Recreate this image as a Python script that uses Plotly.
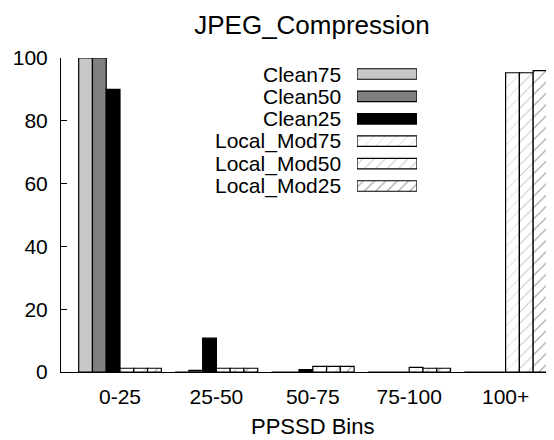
import plotly.graph_objects as go

# ---------------- data ----------------
categories = ["0-25", "25-50", "50-75", "75-100", "100+"]
series_names = ["Clean75", "Clean50", "Clean25", "Local_Mod75", "Local_Mod50", "Local_Mod25"]
clean75 = [100, 0, 0, 0, 0]
clean50 = [100, 0.5, 0, 0, 0]
clean25 = [90, 10.8, 0.8, 0, 0]
local_mod75 = [1.2, 1.2, 1.8, 1.5, 95.3]
local_mod50 = [1.2, 1.2, 1.8, 1.2, 95.3]
local_mod25 = [1.2, 1.2, 1.8, 1.2, 96]
y_ticks = [0, 20, 40, 60, 80, 100]
title_text = "JPEG_Compression"
x_title = "PPSSD Bins"

series_values = [clean75, clean50, clean25, local_mod75, local_mod50, local_mod25]

# ---------------- styles ----------------
FONT = "Liberation Sans, Arial, sans-serif"
styles = [
    dict(color="#c8c8c8"),
    dict(color="#808080"),
    dict(color="#000000"),
    dict(color="white", pattern=dict(shape="/", fgcolor="#c0c0c0", bgcolor="white", size=8, solidity=0.12)),
    dict(color="white", pattern=dict(shape="/", fgcolor="#8a8a8a", bgcolor="white", size=8, solidity=0.12)),
    dict(color="white", pattern=dict(shape="/", fgcolor="#303030", bgcolor="white", size=8, solidity=0.14)),
]

fig = go.Figure()
for name, vals, st in zip(series_names, series_values, styles):
    marker = dict(st)
    marker["line"] = dict(color="black", width=1.2)
    fig.add_trace(go.Bar(x=categories, y=vals, name=name, marker=marker,
                         showlegend=False, xaxis="x", yaxis="y"))

# custom legend (text left, sample right) drawn on its own small axes
for name, st in zip(series_names, styles):
    marker = dict(st)
    marker["line"] = dict(color="black", width=1.2)
    fig.add_trace(go.Bar(y=[name], x=[1], orientation="h", marker=marker, width=0.47,
                         showlegend=False, xaxis="x3", yaxis="y3", hoverinfo="skip"))

# page is offset by the browser's default 8px body margin
OFF = 8
PW, PH = 554, 440            # page size
W, H = PW - OFF, PH - OFF    # figure size
# plot area in page pixels
P_L, P_R, P_T, P_B = 61, 554, 58, 372
L, T = P_L - OFF, P_T - OFF
R = (PW - P_R)
B = PH - P_B
pw = P_R - P_L
ph = P_B - P_T


def px_x(p):
    return (p - P_L) / pw


def px_y(p):
    return (P_B - p) / ph


xr = [-0.612, 4.502]
leg_top, leg_bot = 62.8, 197.2
n = len(series_names)
row_h = (leg_bot - leg_top) / n

annotations = [dict(text=x_title, xref="paper", yref="paper", x=px_x(313), y=px_y(426),
                    xanchor="center", yanchor="middle", showarrow=False,
                    font=dict(family=FONT, size=22, color="black"))]
for i, name in enumerate(series_names):
    annotations.append(dict(text=name, xref="paper", yref="paper",
                            x=px_x(343), y=px_y(leg_top + (i + 0.5) * row_h),
                            xanchor="right", yanchor="middle", showarrow=False,
                            font=dict(family=FONT, size=21, color="black")))

fig.update_layout(
    width=W, height=H,
    margin=dict(l=L, r=R, t=T, b=B, pad=0, autoexpand=False),
    paper_bgcolor="white", plot_bgcolor="white",
    barmode="group", bargap=1 / 7, bargroupgap=0,
    font=dict(family=FONT, size=21, color="black"),
    title=dict(text=title_text, x=px_x(312), xref="paper", xanchor="center",
               y=1 - (25 - OFF) / H, yref="container", yanchor="middle",
               font=dict(family=FONT, size=26, color="black")),
    xaxis=dict(type="category", range=xr, showline=True, linecolor="black", linewidth=1,
               ticks="", showgrid=False, zeroline=False, ticklabelstandoff=6, automargin=False,
               tickfont=dict(family=FONT, size=21, color="black")),
    xaxis2=dict(overlaying="x", side="top", range=xr, anchor="y", automargin=False,
                tickvals=list(range(len(categories))), ticks="inside", ticklen=6,
                tickcolor="black", showticklabels=False, showline=True,
                linecolor="black", linewidth=1, showgrid=False, zeroline=False),
    yaxis=dict(range=[0, 100], tickvals=y_ticks, ticks="inside", ticklen=6, tickcolor="black",
               showline=True, linecolor="black", linewidth=1, mirror=False, automargin=False,
               showgrid=False, zeroline=False, ticklabelstandoff=8,
               tickfont=dict(family=FONT, size=21, color="black")),
    xaxis3=dict(domain=[px_x(357), px_x(417)], anchor="y3", range=[0, 1],
                visible=False, fixedrange=True, automargin=False),
    yaxis3=dict(domain=[px_y(leg_bot), px_y(leg_top)], anchor="x3", type="category",
                categoryorder="array", categoryarray=series_names,
                range=[n - 0.5, -0.5], visible=False, automargin=False),
    annotations=annotations,
)

fig.write_html("out.html")
